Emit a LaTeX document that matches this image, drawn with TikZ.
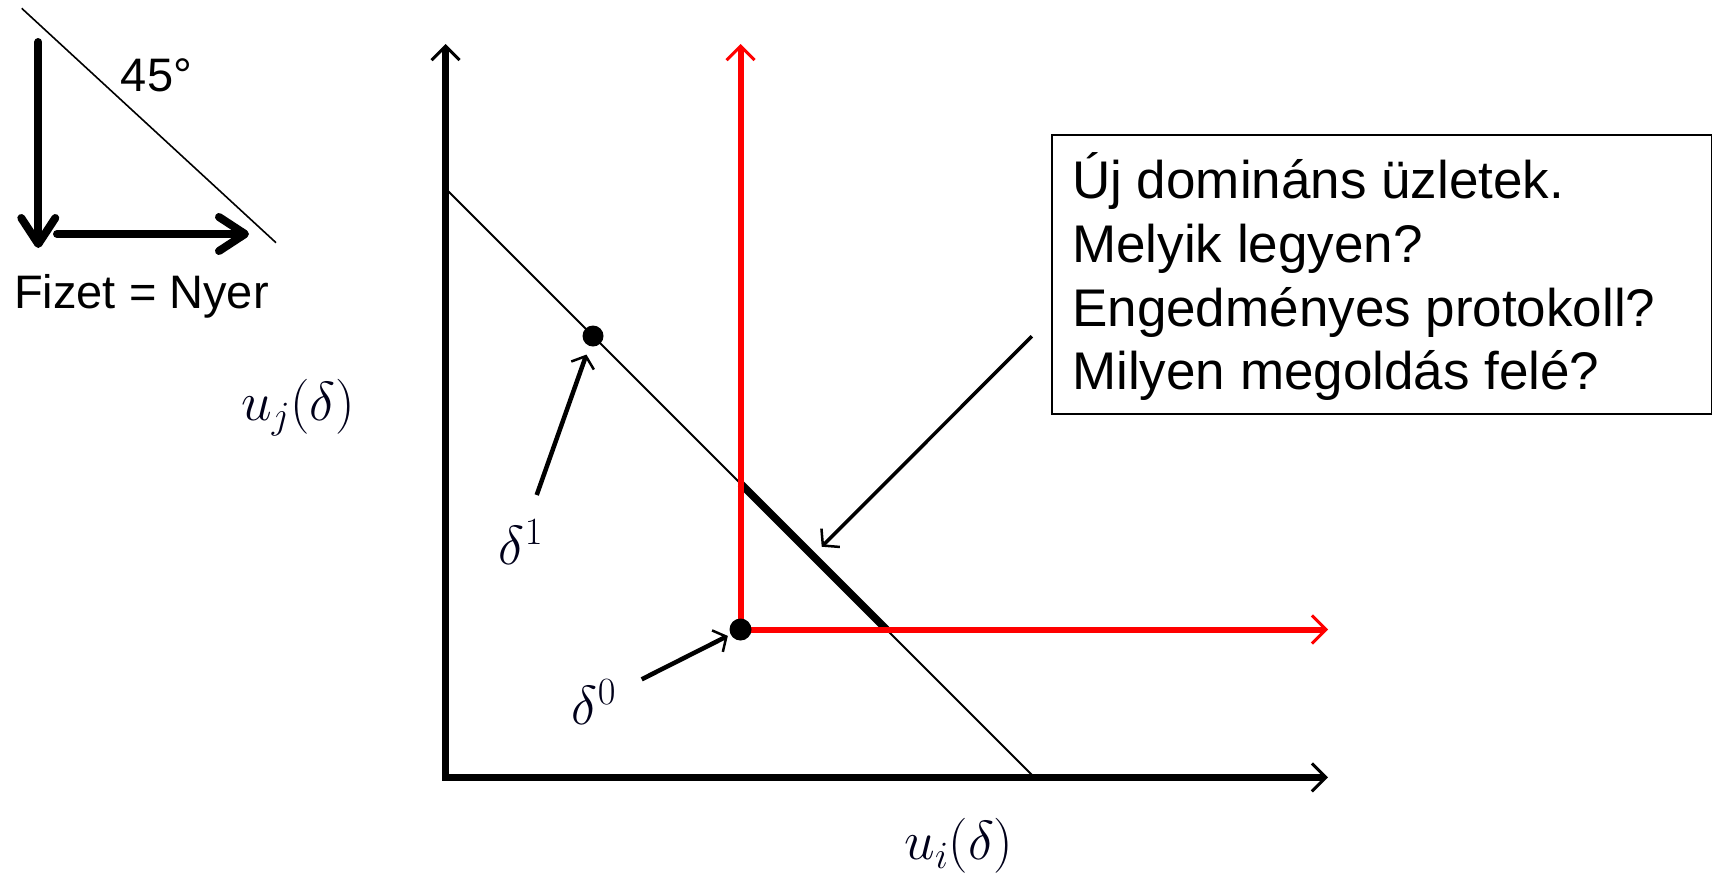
\RequirePackage{fix-cm}
\documentclass[tikz,border=0pt]{standalone}
\usepackage[no-math]{fontspec}
\setmainfont{Liberation Sans}
\usetikzlibrary{arrows.meta}
\begin{document}
\begin{tikzpicture}[x=1pt,y=-1pt,
  axis/.style={line width=7pt, line join=miter,
    {Straight Barb[length=14pt,width=28pt,line width=3pt]}-{Straight Barb[length=14pt,width=28pt,line width=3pt]}},
  redline/.style={draw=red, line width=6pt, -{Straight Barb[length=14pt,width=28pt,line width=3pt]}},
  thinline/.style={line width=2pt},
  thickseg/.style={line width=7.5pt},
  dot/.style={circle, fill=black, inner sep=0pt},
  labarrow/.style={line width=4.5pt, -{Straight Barb[length=10pt,width=24pt,line width=2.5pt]}},
  boxarrow/.style={line width=3.5pt, -{Straight Barb[length=11pt,width=26pt,line width=2.5pt]}},
  bigarrow/.style={line width=8pt, line cap=round, -{Straight Barb[length=26pt,width=34pt,round]}},
  mathlab/.style={font=\fontsize{55}{66}\selectfont, inner sep=0pt, text=black!90!blue},
  sidetext/.style={font=\fontsize{47}{56}\selectfont, inner sep=0pt, anchor=base},
  boxtext/.style={font=\fontsize{53}{63}\selectfont, inner sep=0pt, anchor=base west},
  qbox/.style={draw, line width=2pt, inner sep=0pt, anchor=north west}
]
\useasboundingbox (0,0) rectangle (1712,879);

% --- top-left legend ---
\coordinate (Ltop) at (21.7,8.3);
\coordinate (Lbot) at (276,242.7);
\draw[line width=1.6pt] (Ltop) -- (Lbot);
\coordinate (Vs) at (38.3,42);
\coordinate (Ve) at (38.3,248);
\draw[bigarrow] (Vs) -- (Ve);
\coordinate (Hs) at (57,234);
\coordinate (He) at (249,234);
\draw[bigarrow] (Hs) -- (He);
\node[sidetext] (deg) at (156.5,91) {45°};
\node[sidetext] (fizet) at (141.5,308) {Fizet = Nyer};

% --- main diagram ---
\coordinate (O) at (445.5,777.4);
\coordinate (Ytop) at (445.5,44);
\coordinate (Xend) at (1328,777.4);
\coordinate (Dtop) at (446,189);
\coordinate (Dbot) at (1034.4,777.4);
\coordinate (Ts) at (740.5,483.5);
\coordinate (Te) at (886.5,629.5);
\coordinate (Rtop) at (740.5,44);
\coordinate (Rend) at (1328,629.5);

\draw[thinline] (Dtop) -- (Dbot);
\draw[thickseg] (Ts) -- (Te);
\draw[redline] (740.5,629.5) -- (Rtop);
\draw[redline] (740.5,629.5) -- (Rend);
\draw[axis] (Ytop) -- (O) -- (Xend);

\node[dot, minimum size=21pt] (d1) at (593,336) {};
\node[dot, minimum size=22pt] (d0) at (740.5,629.5) {};

\coordinate (a1t) at (536.7,495);
\draw[labarrow, shorten >=9pt] (a1t) -- (d1);
\coordinate (a0t) at (641.7,679.3);
\draw[labarrow, shorten >=3pt] (a0t) -- (d0);

\node[mathlab] (l1) at (521,542) {$\delta^1$};
\node[mathlab] (l0) at (594,702) {$\delta^0$};
\node[mathlab] (uj) at (298,408) {$u_j(\delta)$};
\node[mathlab] (ui) at (959,846) {$u_i(\delta)$};

% --- question box ---
\node[qbox, minimum width=659.5pt, minimum height=278.4pt] (box) at (1051.4,134.3) {};
\node[boxtext] (t1) at (1072,198.7) {Új domináns üzletek.};
\node[boxtext] (t2) at (1072,262.4) {Melyik legyen?};
\node[boxtext] (t3) at (1072,326.1) {Engedményes protokoll?};
\node[boxtext] (t4) at (1072,389.8) {Milyen megoldás felé?};

\coordinate (bt) at (1031.8,336.3);
\coordinate (bh) at (821.7,546.7);
\draw[boxarrow] (bt) -- (bh);
\end{tikzpicture}
\end{document}
